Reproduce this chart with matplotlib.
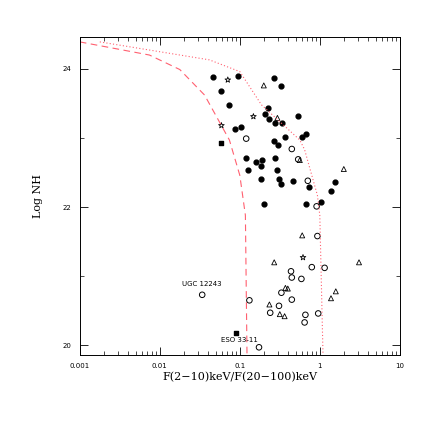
import numpy as np
import matplotlib
matplotlib.use("Agg")
import matplotlib.pyplot as plt
from matplotlib.ticker import LogLocator, FixedLocator, NullFormatter

# log10(F ratio), log NH
fc_lx = [-1.33,-1.02,-0.57,-0.49,-1.24,-1.14,-0.65,-0.68,-0.27,-0.63,-0.56,-0.47,-0.99,-1.06,-0.43,-0.17,-0.22,-0.57,-0.52,-0.92,-0.80,-0.72,-0.73,-0.56,-0.90,-0.53,-0.73,-0.51,-0.48,-0.34,-0.13,0.19,0.14,-0.70,-0.17,0.02]
fc_ly = [23.88,23.89,23.87,23.75,23.68,23.48,23.43,23.35,23.32,23.27,23.21,23.22,23.16,23.13,23.02,23.05,23.01,22.95,22.90,22.71,22.65,22.68,22.59,22.71,22.54,22.54,22.40,22.41,22.33,22.38,22.29,22.36,22.23,22.04,22.04,22.08]
oc_lx = [-0.92,-0.35,-0.15,-0.04,-0.27,-0.03,-0.10,0.06,-0.36,-0.35,-0.23,-0.48,-0.35,-0.88,-0.51,-0.62,-0.18,-0.19,-0.02,-0.76,-1.47]
oc_ly = [22.99,22.84,22.38,22.01,22.69,21.58,21.13,21.12,21.07,20.98,20.96,20.76,20.66,20.65,20.57,20.47,20.44,20.33,20.46,19.97,20.73]
st_lx = [-1.15,-0.83,-1.23,-0.21]
st_ly = [23.84,23.31,23.18,21.27]
tr_lx = [-0.70,-0.53,-0.25,0.30,-0.22,-0.57,0.49,-0.43,-0.40,0.20,0.14,-0.63,-0.50,-0.44]
tr_ly = [23.76,23.29,22.68,22.55,21.59,21.20,21.20,20.83,20.82,20.78,20.68,20.59,20.45,20.42]
sq_lx = [-1.23,-1.05]
sq_ly = [22.92,20.18]
dash_lx = [-3,-2.13,-1.75,-1.44,-1.13,-1.0,-0.93,-0.91]
dash_ly = [24.39,24.2,23.99,23.62,22.97,22.46,21.88,19.86]
dot_lx = [-2.75,-1.38,-1.0,-0.73,-0.25,-0.19,-0.03,0.0,0.04]
dot_ly = [24.39,24.13,23.96,23.48,22.97,22.83,22.17,21.88,19.86]
xtick_labels = ["0.001","0.01","0.1","1","10"]

p = lambda a: 10**np.array(a)
fig = plt.figure(figsize=(4.36,4.36), dpi=100)
ax = fig.add_axes([0.183,0.186,0.734,0.729])
ax.plot(p(dash_lx), dash_ly, color="#ff6070", ls=(0,(6,4)), lw=0.8)
ax.plot(p(dot_lx), dot_ly, color="#ff6070", ls=(0,(1,2)), lw=0.8)
ax.scatter(p(fc_lx), fc_ly, s=12, c="k", marker="o")
ax.scatter(p(oc_lx), oc_ly, s=16, facecolors="none", edgecolors="k", marker="o", lw=0.7)
ax.scatter(p(st_lx), st_ly, s=18, facecolors="none", edgecolors="k", marker="*", lw=0.6)
ax.scatter(p(tr_lx), tr_ly, s=13, facecolors="none", edgecolors="k", marker="^", lw=0.6)
ax.scatter(p(sq_lx), sq_ly, s=9, c="k", marker="s")
ax.text(10**-1.47, 20.85, "UGC 12243", fontsize=5, ha="center")
ax.text(10**-1.0, 20.05, "ESO 33-11", fontsize=5, ha="center")
ax.set_xscale("log")
ax.set_xlim(1e-3, 10)
ax.set_ylim(19.86, 24.46)
ax.set_xticks([1e-3,1e-2,1e-1,1,10])
ax.set_xticklabels(xtick_labels)
ax.xaxis.set_minor_locator(LogLocator(base=10, subs=np.arange(2,10), numticks=20))
ax.xaxis.set_minor_formatter(NullFormatter())
ax.set_yticks([20,22,24])
ax.set_yticklabels(["20","22","24"])
ax.yaxis.set_minor_locator(FixedLocator([21,23]))
ax.tick_params(which="both", direction="in", top=True, right=True, labelsize=5, pad=6)
ax.tick_params(which="major", length=6, width=0.6)
ax.tick_params(which="minor", length=3, width=0.5)
for s in ax.spines.values():
    s.set_linewidth(0.7)
ax.set_xlabel("F(2\u221210)keV/F(20\u2212100)keV", family="DejaVu Serif", fontsize=8, labelpad=2)
ax.set_ylabel("Log NH", family="DejaVu Serif", fontsize=8, labelpad=14)
fig.savefig("out.png", dpi=100)
